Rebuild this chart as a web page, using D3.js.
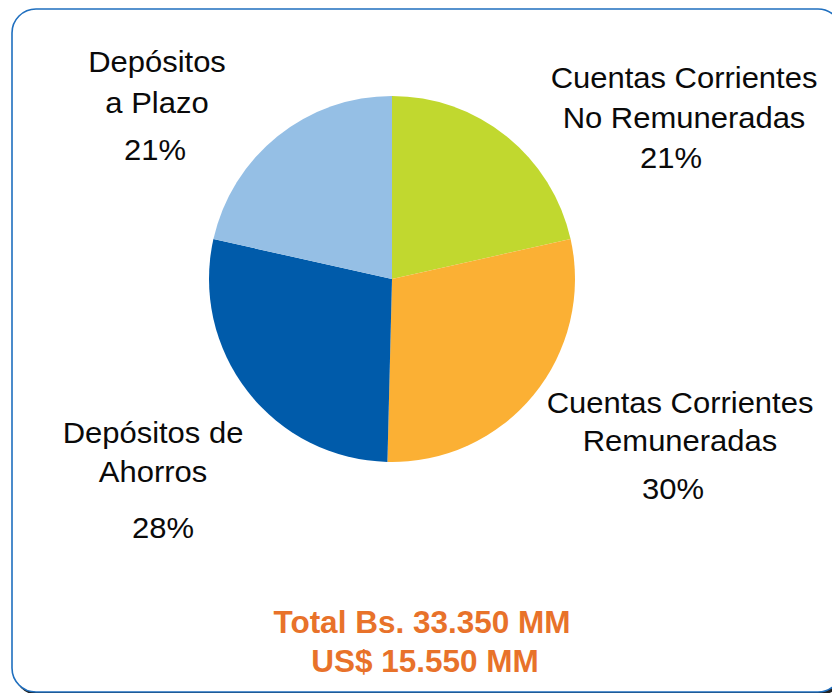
<!DOCTYPE html>
<html lang="es">
<head>
<meta charset="utf-8">
<script src="https://d3js.org/d3.v7.min.js"></script>
<style>
  body { margin: 0; background: #fff; }
  #chart text { font-family: "Liberation Sans", Arial, sans-serif; fill: #0a0a0a; }
</style>
</head>
<body>
<div id="chart"></div>
<script>
// datos (orden horario desde las 12)
var categorias = ["Cuentas Corrientes No Remuneradas", "Cuentas Corrientes Remuneradas", "Depósitos de Ahorros", "Depósitos a Plazo"];
var valores = [21.5, 28.9, 28.1, 21.5];
var porcentajes = ["21%", "30%", "28%", "21%"];
var colores = ["#c1d82f", "#fbb034", "#005baa", "#95bfe5"];
var etiquetas = [
  ["Cuentas Corrientes", "No Remuneradas"],
  ["Cuentas Corrientes", "Remuneradas"],
  ["Depósitos de", "Ahorros"],
  ["Depósitos", "a Plazo"]
];
var totales = ["Total Bs. 33.350 MM", "US$ 15.550 MM"];

var ancho = 832, alto = 693;
var svg = d3.select("#chart").append("svg")
  .attr("width", ancho).attr("height", alto);

// marco con sombra
svg.append("rect")
  .attr("x", 14).attr("y", 12).attr("width", 830).attr("height", 683)
  .attr("rx", 24).attr("fill", "#222");
svg.append("rect")
  .attr("x", 12).attr("y", 9).attr("width", 830).attr("height", 683)
  .attr("rx", 24).attr("fill", "#fff")
  .attr("stroke", "#1f6fbf").attr("stroke-width", 1.6);

var cx = 392, cy = 279, radio = 183;
var pie = d3.pie().sort(null).value(d => d);
var arco = d3.arc().innerRadius(0).outerRadius(radio);

var g = svg.append("g").attr("transform", "translate(" + cx + "," + cy + ")");
g.selectAll("path")
  .data(pie(valores))
  .enter().append("path")
    .attr("d", arco)
    .attr("fill", (d, i) => colores[i]);

// posición de cada rótulo: centro x de las líneas, x del %, líneas base
var posRotulos = [
  { x: 684, xp: 671, y: [88, 128, 168] },
  { x: 680, xp: 673, y: [413, 451, 499] },
  { x: 153, xp: 163, y: [443, 482, 538] },
  { x: 157, xp: 155, y: [72, 113, 160] }
];

var fs = 29.5, estirar = 1.05;
posRotulos.forEach(function (p, i) {
  var lineas = etiquetas[i].map((t, k) => ({ t: t, x: p.x, y: p.y[k] }));
  lineas.push({ t: porcentajes[i], x: p.xp, y: p.y[2] });
  svg.selectAll(null)
    .data(lineas)
    .enter().append("text")
      .attr("transform", d => "translate(" + d.x + "," + d.y + ") scale(" + estirar + ",1)")
      .attr("text-anchor", "middle")
      .style("font-size", fs + "px")
      .text(d => d.t);
});

svg.selectAll(".total")
  .data(totales)
  .enter().append("text")
    .attr("class", "total")
    .attr("x", (d, i) => i == 0 ? 422 : 425)
    .attr("y", (d, i) => i == 0 ? 633 : 672)
    .attr("text-anchor", "middle")
    .style("font-size", "31.5px")
    .style("font-weight", "bold")
    .style("fill", "#e8722a")
    .text(d => d);
</script>
</body>
</html>
